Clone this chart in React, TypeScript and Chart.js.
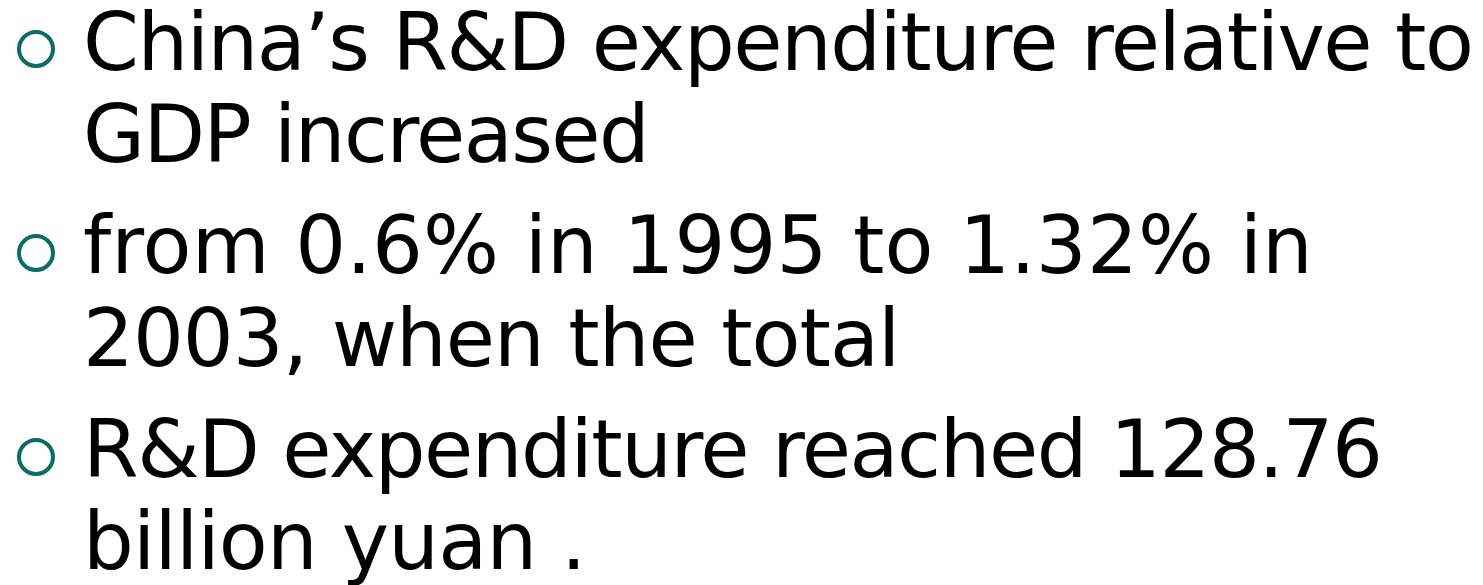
import React, { useEffect, useLayoutEffect, useRef, useState } from "react";
import { Chart, registerables } from "chart.js";

Chart.register(...registerables);

// Slide content
const bulletLines: string[][] = [
  ["China’s R&D expenditure relative to", "GDP increased"],
  ["from 0.6% in 1995 to 1.32% in", "2003, when the total"],
  ["R&D expenditure reached 128.76", "billion yuan ."],
];
const bulletIndex: number[] = [0, 1, 2];

// Layout / style (not data): right ink edge of each line in the reference
const lineInkRight: number[][] = [
  [1470, 643],
  [1306, 893],
  [1378, 578],
];

const PAGE_W = 1483;
const PAGE_H = 585;
const FONT_SIZE = 80;
const FONT_FAMILY = '"DejaVu Sans", Verdana, sans-serif';
const LINE_STEP = 92.5;
const BLOCK_STEP = 203.5;
const FIRST_BASELINE = 70.5;
const BOX_H = 80; // line box height
const BASELINE_IN_BOX = 67.7; // baseline position inside an 80px line box (DejaVu Sans 80px)
const TEXT_LEFT = 83;
const BULLET_COL_W = 72;
const FIRST_BULLET_Y = 49;
const BULLET_STEP = 204;
const TEAL = "#0d6b69";

export default function App() {
  const canvasRef = useRef<HTMLCanvasElement | null>(null);
  const [spacing, setSpacing] = useState<number[][]>(
    bulletLines.map((ls) => ls.map(() => 0))
  );

  useLayoutEffect(() => {
    const c = document.createElement("canvas");
    const ctx = c.getContext("2d");
    if (!ctx) return;
    ctx.font = `${FONT_SIZE}px ${FONT_FAMILY}`;
    setSpacing(
      bulletLines.map((ls, i) =>
        ls.map((l, j) => {
          const m = ctx.measureText(l);
          const natural = TEXT_LEFT + m.actualBoundingBoxRight;
          const n = Array.from(l).length;
          return (lineInkRight[i][j] - natural) / Math.max(1, n - 1);
        })
      )
    );
  }, []);

  useEffect(() => {
    document.body.style.margin = "0";
    const canvas = canvasRef.current;
    if (!canvas) return;
    const chart = new Chart(canvas, {
      type: "scatter",
      data: {
        datasets: [
          {
            data: bulletIndex.map((i) => ({ x: 0, y: i })),
            pointStyle: "circle",
            pointRadius: 17,
            pointBorderWidth: 4,
            pointBorderColor: TEAL,
            pointBackgroundColor: "rgba(0,0,0,0)",
            showLine: false,
            clip: false,
          },
        ],
      },
      options: {
        animation: false,
        responsive: false,
        events: [],
        layout: { padding: 0, autoPadding: false },
        plugins: {
          legend: { display: false },
          tooltip: { enabled: false },
          title: { display: false },
        },
        scales: {
          x: { type: "linear", display: false, min: -1, max: 1 },
          y: {
            type: "linear",
            display: false,
            reverse: true,
            min: -FIRST_BULLET_Y / BULLET_STEP,
            max: (PAGE_H - FIRST_BULLET_Y) / BULLET_STEP,
          },
        },
      },
    });
    return () => chart.destroy();
  }, []);

  return (
    <div
      style={{
        position: "fixed",
        left: 0,
        top: 0,
        width: PAGE_W,
        height: PAGE_H,
        overflow: "hidden",
        background: "#ffffff",
      }}
    >
      <canvas
        ref={canvasRef}
        width={BULLET_COL_W}
        height={PAGE_H}
        style={{ position: "absolute", left: 0, top: 0, width: BULLET_COL_W, height: PAGE_H }}
      />
      {bulletLines.map((lines, i) =>
        lines.map((l, j) => (
          <div
            key={`${i}-${j}`}
            style={{
              position: "absolute",
              left: TEXT_LEFT,
              top: FIRST_BASELINE + i * BLOCK_STEP + j * LINE_STEP - BASELINE_IN_BOX,
              height: BOX_H,
              fontFamily: FONT_FAMILY,
              fontSize: FONT_SIZE,
              lineHeight: `${BOX_H}px`,
              color: "#000000",
              whiteSpace: "nowrap",
              letterSpacing: `${spacing[i][j]}px`,
            }}
          >
            {l}
          </div>
        ))
      )}
    </div>
  );
}
